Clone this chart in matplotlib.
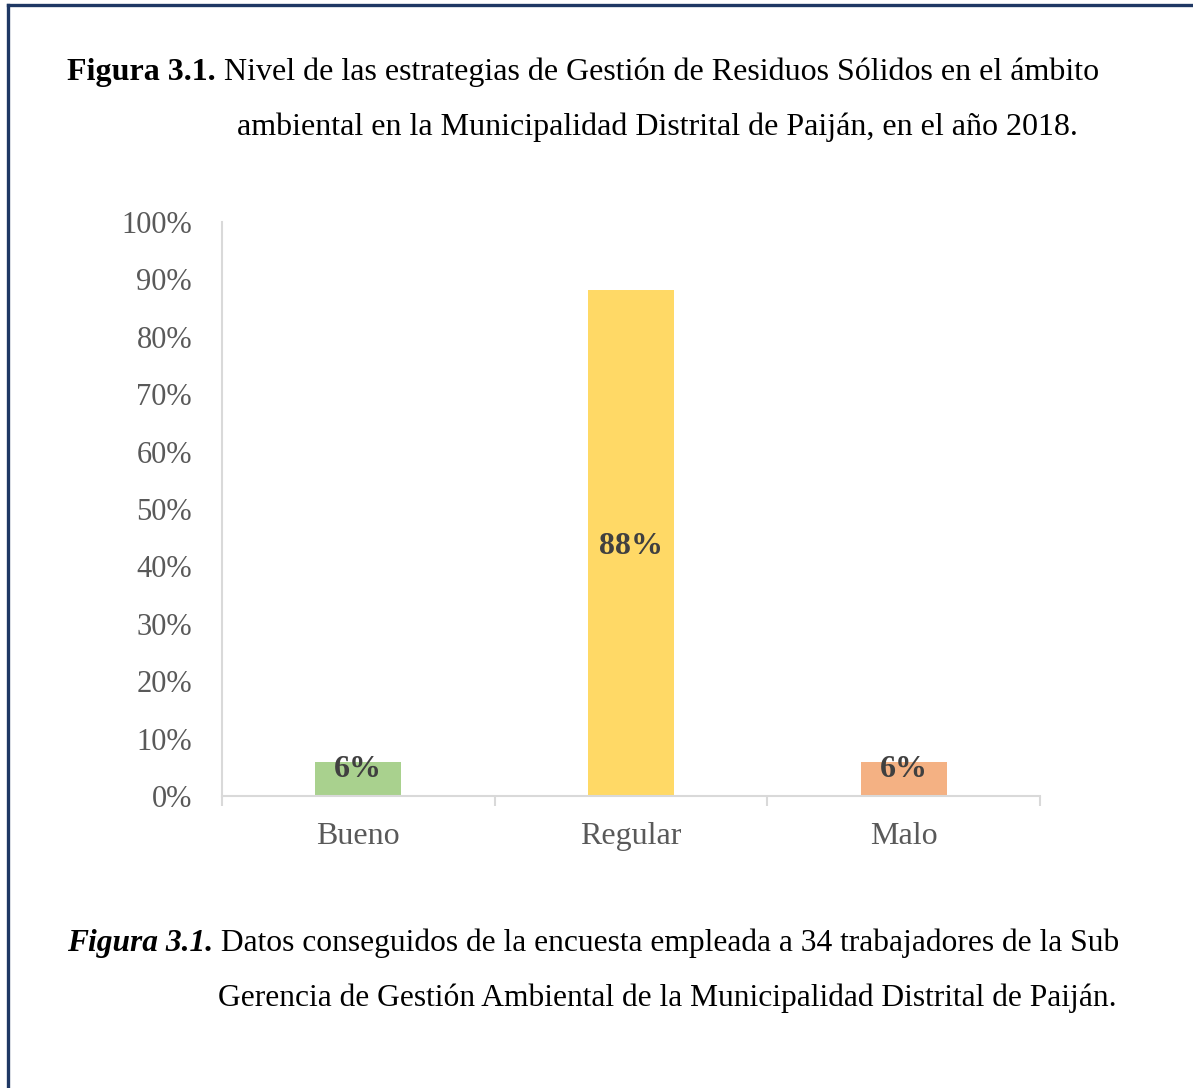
import matplotlib
matplotlib.use('Agg')
import matplotlib.pyplot as plt
from matplotlib.lines import Line2D

categories = ['Bueno', 'Regular', 'Malo']
values = [2 / 34, 30 / 34, 2 / 34]
labels = ['6%', '88%', '6%']
colors = ['#A9D18E', '#FFD966', '#F4B183']
yticks = [0, 0.1, 0.2, 0.3, 0.4, 0.5, 0.6, 0.7, 0.8, 0.9, 1.0]
ytick_labels = ['0%', '10%', '20%', '30%', '40%', '50%', '60%', '70%', '80%', '90%', '100%']

title_bold = 'Figura 3.1.'
title_line1 = ' Nivel de las estrategias de Gestión de Residuos Sólidos en el ámbito'
title_line2 = 'ambiental en la Municipalidad Distrital de Paiján, en el año 2018.'
note_bold = 'Figura 3.1.'
note_line1 = ' Datos conseguidos de la encuesta empleada a 34 trabajadores de la Sub'
note_line2 = 'Gerencia de Gestión Ambiental de la Municipalidad Distrital de Paiján.'

plt.rcParams['font.family'] = ['Liberation Serif', 'DejaVu Serif']

W, H = 1193, 1088
fig = plt.figure(figsize=(W / 100, H / 100), dpi=100)
fig.patch.set_facecolor('white')

# frame (only top and left edges visible in the page crop)
fig.add_artist(Line2D([8 / W, 8 / W], [0, 1 - 5 / H], color='#1F3864', lw=2.4))
fig.add_artist(Line2D([8 / W, 1], [1 - 5 / H, 1 - 5 / H], color='#1F3864', lw=2.4))

ax = fig.add_axes([222 / W, 1 - 796 / H, (1040 - 222) / W, (796 - 222) / H])
x = list(range(len(categories)))
ax.bar(x, values, width=0.315, color=colors, zorder=2)

for xi, v, lab in zip(x, values, labels):
    ypos = v / 2 if v > 0.3 else v - 0.007
    ax.text(xi, ypos, lab, ha='center', va='center_baseline', fontsize=23,
            fontweight='bold', color='#404040', zorder=3)

ax.set_xlim(-0.5, 2.5)
ax.set_ylim(0, 1)
ax.set_yticks(yticks)
ax.set_yticklabels(ytick_labels)
ax.set_xticks(x)
ax.set_xticklabels(categories)
ax.set_xticks([-0.5, 0.5, 1.5, 2.5], minor=True)
ax.tick_params(axis='x', which='major', length=0, pad=19, labelsize=23, labelcolor='#595959')
ax.tick_params(axis='x', which='minor', length=7, width=1.5, color='#D9D9D9', direction='out')
ax.tick_params(axis='y', length=0, pad=21.6, labelsize=22, labelcolor='#595959')
for s in ['top', 'right']:
    ax.spines[s].set_visible(False)
for s in ['left', 'bottom']:
    ax.spines[s].set_color('#D9D9D9')
    ax.spines[s].set_linewidth(1.5)

renderer = fig.canvas.get_renderer()


def mixed_line(x0, y0, bold_text, rest_text, bold_style, fs):
    t1 = fig.text(x0 / W, 1 - y0 / H, bold_text, fontsize=fs, fontweight='bold',
                  fontstyle=bold_style, va='baseline', ha='left', color='black')
    bb = t1.get_window_extent(renderer)
    fig.text(bb.x1 / W, 1 - y0 / H, rest_text, fontsize=fs, va='baseline',
             ha='left', color='black')


mixed_line(67, 80, title_bold, title_line1, 'normal', 23)
fig.text(237 / W, 1 - 135 / H, title_line2, fontsize=23, va='baseline', ha='left')
mixed_line(67, 951, note_bold, note_line1, 'italic', 22.7)
fig.text(218 / W, 1 - 1006 / H, note_line2, fontsize=22.7, va='baseline', ha='left')

fig.savefig('out.png', dpi=100)
